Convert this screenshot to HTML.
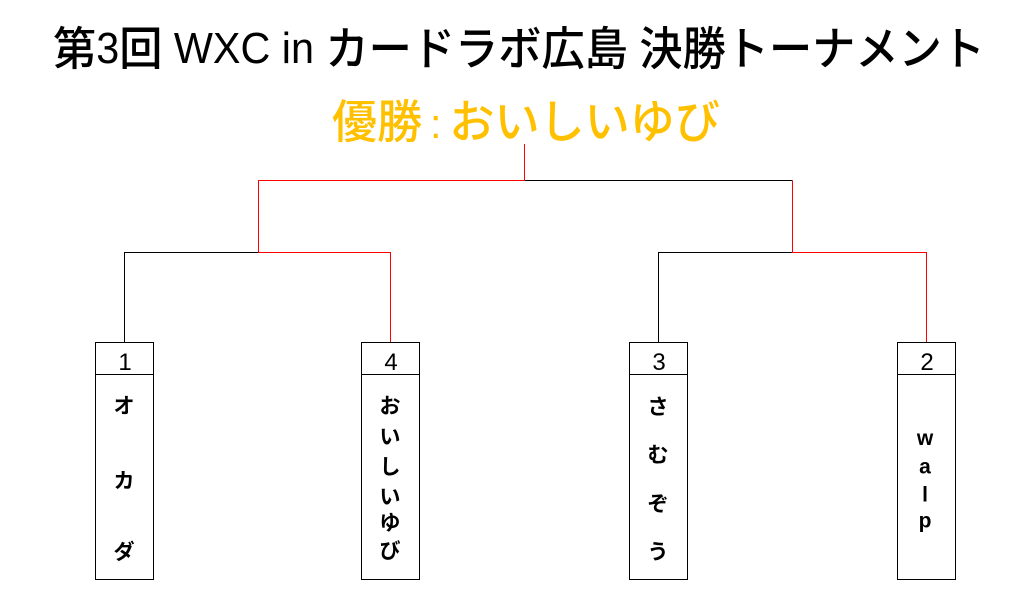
<!DOCTYPE html>
<html><head><meta charset="utf-8"><style>
html,body{margin:0;padding:0;background:#fff;}
body{width:1032px;height:616px;overflow:hidden;}
svg{display:block;}
text{font-family:"Liberation Sans","Noto Sans CJK JP",sans-serif;}
</style></head><body>
<svg width="1032" height="616" viewBox="0 0 1032 616" xmlns="http://www.w3.org/2000/svg">
<rect width="1032" height="616" fill="#fff"/>
<!-- title -->
<text x="53" y="65" font-size="46" font-weight="500" fill="#000" textLength="932" lengthAdjust="spacingAndGlyphs">第<tspan y="63" font-size="44">3</tspan><tspan y="65">回</tspan><tspan y="63" font-size="44"> WXC in </tspan><tspan y="65">カードラボ広島</tspan><tspan y="63" font-size="44"> </tspan><tspan y="65">決勝トーナメント</tspan></text>
<!-- winner -->
<text x="332" y="138" font-size="46" font-weight="500" fill="#ffc000" textLength="388" lengthAdjust="spacingAndGlyphs">優勝<tspan dx="8" font-size="42">:</tspan><tspan dx="8">おいしいゆび</tspan></text>

<!-- bracket lines -->
<g fill="none" stroke-width="1" shape-rendering="crispEdges">
  <polyline points="524.5,180.5 792.5,180.5" stroke="#000"/>
  <polyline points="258.5,252.5 124.5,252.5 124.5,342" stroke="#000"/>
  <polyline points="792.5,252.5 658.5,252.5 658.5,342" stroke="#000"/>
  <polyline points="524.5,144 524.5,180.5 258.5,180.5 258.5,252.5 390.5,252.5 390.5,342" stroke="#ff0000"/>
  <polyline points="792.5,180.5 792.5,252.5 926.5,252.5 926.5,342" stroke="#ff0000"/>
</g>

<!-- boxes -->
<g fill="none" stroke="#000" stroke-width="1" shape-rendering="crispEdges">
  <rect x="95.5" y="342.5" width="58" height="237"/>
  <line x1="95.5" y1="374.5" x2="153.5" y2="374.5"/>
  <rect x="361.5" y="342.5" width="58" height="237"/>
  <line x1="361.5" y1="374.5" x2="419.5" y2="374.5"/>
  <rect x="629.5" y="342.5" width="58" height="237"/>
  <line x1="629.5" y1="374.5" x2="687.5" y2="374.5"/>
  <rect x="897.5" y="342.5" width="58" height="237"/>
  <line x1="897.5" y1="374.5" x2="955.5" y2="374.5"/>
</g>

<!-- seed numbers -->
<g font-size="24" fill="#000" text-anchor="middle">
  <text x="125" y="370">1</text>
  <text x="391" y="370">4</text>
  <text x="659" y="370">3</text>
  <text x="927" y="370">2</text>
</g>

<!-- names -->
<g font-size="21" font-weight="bold" fill="#000" text-anchor="middle">
  <text x="124" y="413">オ</text>
  <text x="124" y="488">カ</text>
  <text x="124" y="559">ダ</text>

  <text x="390" y="413">お</text>
  <text x="390" y="444">い</text>
  <text x="390" y="474">し</text>
  <text x="390" y="504">い</text>
  <text x="390" y="530">ゆ</text>
  <text x="390" y="558">び</text>

  <text x="658" y="414">さ</text>
  <text x="658" y="462">む</text>
  <text x="658" y="511">ぞ</text>
  <text x="658" y="559">う</text>
</g>
<g font-size="21" font-weight="bold" fill="#000" text-anchor="middle">
  <text x="925" y="445">w</text>
  <text x="925" y="473.5">a</text>
  <text x="925" y="501.5">l</text>
  <text x="925" y="527.5">p</text>
</g>
</svg>
</body></html>
